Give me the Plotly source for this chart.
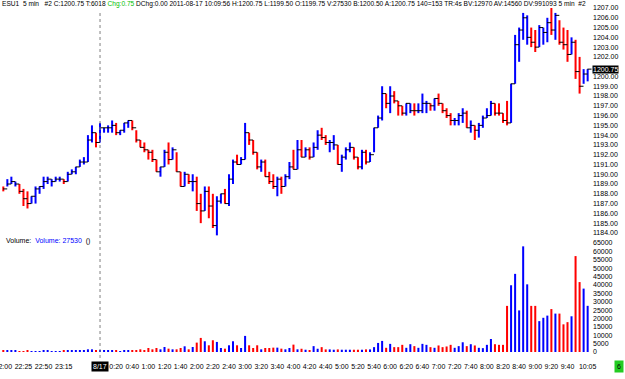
import plotly.graph_objects as go

W, H = 625, 379

opens = [1188.75,1188.75,1189.0,1188.75,1189.0,1188.25,1187.5,1187.0,1187.75,1188.25,
         1188.75,1189.25,1189.0,1189.25,1189.25,1189.5,1189.25,1190.0,1190.25,1190.75,
         1191.0,1191.25,1193.5,1194.25,1193.25,1194.5,1194.5,1194.5,1195.0,1194.25,
         1194.5,1195.25,1195.5,1194.5,1193.5,1193.0,1192.5,1192.25,1191.25,1190.25,
         1190.75,1192.25,1191.5,1192.25,1190.25,1189.0,1189.75,1188.75,1189.25,1187.0,
         1186.5,1188.25,1186.75,1184.75,1187.25,1188.0,1187.0,1189.5,1191.75,1191.0,
         1191.5,1194.25,1193.5,1192.25,1190.75,1191.25,1189.75,1189.25,1188.5,1189.5,
         1188.75,1189.75,1192.0,1190.5,1193.25,1192.0,1192.5,1191.75,1192.75,1194.5,
         1193.75,1192.75,1192.75,1193.0,1191.0,1191.75,1192.5,1192.5,1191.5,1190.75,
         1192.0,1191.5,1192.25,1195.0,1195.75,1198.0,1197.0,1198.25,1197.25,1197.0,
         1196.25,1196.25,1197.0,1196.25,1196.5,1196.75,1197.25,1197.0,1197.75,1197.0,
         1196.5,1196.0,1195.25,1195.5,1195.75,1196.25,1194.75,1194.75,1194.25,1195.0,
         1195.75,1196.0,1197.0,1196.75,1196.0,1197.0,1195.5,1199.5,1202.0,1204.5,
         1203.5,1205.0,1204.5,1203.25,1203.5,1203.75,1205.5,1204.5,1205.5,1204.25,
         1203.5,1202.5,1203.25,1201.0,1199.5,1199.75]
highs = [1188.75,1189.5,1189.75,1189.25,1189.0,1188.5,1188.25,1187.75,1188.75,1188.75,
         1189.75,1189.75,1189.5,1189.75,1189.75,1189.5,1190.25,1190.5,1190.75,1191.5,
         1191.75,1194.0,1195.0,1194.25,1195.25,1194.75,1195.0,1195.5,1195.25,1194.5,
         1195.25,1195.5,1195.5,1194.5,1193.5,1193.25,1192.5,1192.5,1191.5,1190.75,
         1192.5,1193.25,1192.75,1192.25,1190.25,1190.25,1190.0,1190.0,1189.75,1188.0,
         1188.75,1188.75,1188.0,1187.75,1188.0,1188.5,1190.0,1191.5,1192.0,1191.75,
         1195.25,1194.25,1193.5,1192.25,1191.5,1191.5,1190.25,1190.0,1189.75,1189.75,
         1190.0,1191.25,1192.5,1193.5,1193.5,1192.75,1192.75,1193.25,1194.5,1194.75,
         1194.0,1193.5,1194.0,1193.0,1192.0,1192.75,1193.25,1192.75,1191.75,1192.5,
         1192.5,1192.25,1194.75,1196.0,1199.0,1198.25,1199.0,1198.5,1197.5,1197.0,
         1197.25,1197.25,1197.25,1197.25,1198.25,1197.5,1197.25,1197.75,1198.25,1197.25,
         1196.75,1196.25,1195.75,1196.25,1196.75,1196.5,1195.5,1195.0,1195.25,1196.0,
         1196.75,1197.5,1197.25,1197.25,1196.25,1197.5,1199.25,1204.25,1205.0,1206.5,
         1206.25,1205.0,1204.75,1205.25,1205.0,1206.0,1207.0,1206.5,1205.75,1205.0,
         1204.75,1204.0,1203.75,1202.0,1200.75,1200.75]
lows = [1188.25,1188.75,1189.0,1188.75,1188.0,1186.75,1186.5,1187.0,1187.0,1188.0,
        1188.5,1189.0,1188.75,1189.25,1189.25,1189.0,1189.25,1190.0,1190.0,1190.75,
        1191.0,1191.25,1193.25,1192.75,1193.25,1194.25,1194.25,1194.25,1194.0,1194.0,
        1194.25,1194.75,1194.5,1193.25,1192.75,1192.25,1191.5,1191.25,1190.25,1189.75,
        1190.75,1191.0,1191.5,1190.25,1188.75,1188.75,1189.0,1188.25,1186.25,1185.0,
        1186.25,1185.5,1184.5,1183.75,1187.0,1187.0,1186.75,1189.0,1191.0,1191.0,
        1191.5,1193.0,1192.0,1190.5,1190.25,1189.75,1189.0,1188.5,1187.75,1188.0,
        1188.75,1189.5,1190.5,1190.5,1191.75,1191.75,1191.5,1191.75,1192.5,1193.5,
        1193.0,1192.25,1192.5,1191.0,1190.25,1191.5,1192.25,1191.5,1190.5,1190.5,
        1191.0,1191.25,1192.25,1194.75,1195.5,1196.75,1196.25,1197.25,1196.0,1196.0,
        1196.0,1196.25,1196.0,1196.25,1196.25,1196.25,1196.5,1196.5,1197.0,1196.25,
        1195.75,1195.0,1195.0,1195.0,1195.25,1194.75,1194.25,1193.5,1193.75,1194.75,
        1195.75,1196.0,1196.0,1196.0,1195.25,1195.0,1195.25,1199.25,1201.5,1203.75,
        1203.25,1203.0,1202.5,1203.0,1203.25,1203.5,1204.25,1203.75,1203.25,1202.75,
        1201.5,1202.25,1199.75,1198.25,1199.25,1199.5]
closes = [1188.5,1189.0,1189.25,1189.0,1188.25,1187.5,1187.0,1187.75,1188.5,1188.75,
          1189.25,1189.5,1189.25,1189.5,1189.5,1189.25,1190.0,1190.25,1190.75,1191.25,
          1191.25,1193.5,1194.25,1193.25,1194.75,1194.75,1194.75,1195.0,1194.25,1194.5,
          1195.25,1195.5,1194.75,1193.5,1192.75,1192.5,1192.25,1191.5,1190.25,1190.75,
          1192.25,1191.5,1192.5,1190.25,1188.75,1190.0,1189.25,1189.25,1187.0,1186.25,
          1188.25,1186.75,1184.75,1187.25,1188.0,1187.0,1189.5,1191.25,1191.0,1191.5,
          1194.25,1193.5,1192.25,1190.75,1191.25,1189.75,1189.25,1188.75,1189.5,1188.75,
          1189.75,1190.75,1190.5,1192.5,1191.75,1192.5,1191.75,1192.75,1194.0,1193.75,
          1193.25,1193.25,1193.0,1191.0,1191.75,1192.5,1192.75,1191.75,1190.75,1192.25,
          1191.25,1192.0,1194.75,1195.75,1198.25,1197.25,1198.0,1197.5,1197.0,1196.25,
          1197.25,1196.5,1196.5,1196.5,1197.25,1197.25,1197.0,1197.75,1197.25,1196.5,
          1196.0,1195.5,1195.5,1196.0,1196.25,1194.75,1195.0,1194.5,1195.0,1195.75,
          1196.0,1197.25,1196.25,1196.25,1195.5,1195.25,1199.25,1203.25,1204.75,1206.0,
          1204.0,1203.5,1203.0,1205.0,1204.5,1205.5,1204.75,1206.25,1203.5,1203.25,
          1202.25,1203.5,1200.5,1199.0,1200.25,1200.75]
volumes = [1000,1000,1000,1000,400,400,1000,400,400,400,
           1000,600,400,400,400,600,1000,1000,1000,1000,
           600,1600,1600,1000,1000,1000,1000,1000,1000,400,
           1000,1000,1000,1000,1600,1000,2400,1600,2400,1600,
           3000,2000,1600,1600,2400,3400,1600,3000,5600,8400,
           6400,4000,7000,6000,2400,2000,4000,6400,4000,2400,
           9600,4000,2400,4000,1600,2400,2400,2600,2600,2000,
           1600,2400,4400,1600,1940,1360,970,3500,1940,2900,
           1550,1550,1360,1550,1360,1360,1360,1360,1360,1360,
           1550,1550,2900,5400,6600,2500,4850,2900,2900,4270,
           2500,4650,3500,2500,4850,4270,2900,2500,3900,2900,
           3300,4270,2500,3500,5800,3500,4650,3900,2500,2300,
           4270,7760,4650,4270,4270,27500,39800,46600,24800,63000,
           40350,27500,27500,18400,20400,21700,25600,22900,22900,16500,
           17800,21300,57200,41700,37800,27530]

price_ticks = [1184,1185,1186,1187,1188,1189,1190,1191,1192,1193,1194,1195,1196,
               1197,1198,1199,1200,1202,1203,1204,1205,1206,1207]
volume_ticks = [0,5000,10000,15000,20000,25000,30000,35000,40000,45000,50000,55000,60000,65000]
x_tick_idx = [0,5,10,15,28,32,36,40,44,48,52,56,60,64,68,72,76,80,84,88,92,96,
              100,104,108,112,116,120,124,128,132,136,140,145]
x_tick_text = ["22:00","22:25","22:50","23:15","0:20","0:40","1:00","1:20","1:40",
               "2:00","2:20","2:40","3:00","3:20","3:40","4:00","4:20","4:40","5:00",
               "5:20","5:40","6:00","6:20","6:40","7:00","7:20","7:40","8:00","8:20",
               "8:40","9:00","9:20","9:40","10:05"]
date_idx = 24
date_label = "8/17"
last_close_label = "1200.75"
header_left = "ESU1\u00a0\u00a05 min\u00a0\u00a0\u00a0#2 C:1200.75 T:6018 "
header_chg = "Chg:0.75"
header_right = (" DChg:0.00 2011-08-17 10:09:56 H:1200.75 L:1199.50 O:1199.75 V:27530 "
                "B:1200.50 A:1200.75 140=153 TR:4s BV:12970 AV:14560 DV:991093 5 min\u00a0\u00a0#2")

BLUE, RED = "#0000ff", "#ff0000"
FONT = "Liberation Sans, Arial, sans-serif"
n = len(closes)
xs = list(range(n))
colors = [BLUE if c > o else (RED if c < o else "#000000") for o, c in zip(opens, closes)]

def py(px):
    return 1 - px / H

fig = go.Figure()
fig.add_trace(go.Bar(x=xs, y=[h - l for h, l in zip(highs, lows)], base=lows, width=0.5,
                     marker=dict(color=colors, line=dict(width=0)), xaxis="x", yaxis="y",
                     hoverinfo="skip"))
fig.add_trace(go.Scatter(x=[i + 0.45 for i in xs], y=closes, mode="markers",
                         marker=dict(symbol="line-ew", size=3, color="#000000",
                                     line=dict(width=1, color="#000000")),
                         xaxis="x", yaxis="y", hoverinfo="skip"))
fig.add_trace(go.Bar(x=xs, y=volumes, width=0.5,
                     marker=dict(color=colors, line=dict(width=0)), xaxis="x2", yaxis="y2",
                     hoverinfo="skip"))

xr = [-0.82, 146.08]
xdom = [0, 592 / W]
fig.update_layout(
    width=W, height=H, margin=dict(l=0, r=0, t=0, b=0),
    paper_bgcolor="white", plot_bgcolor="white", showlegend=False,
    font=dict(family=FONT, size=7, color="#000000"),
    xaxis=dict(domain=xdom, range=xr, anchor="y", showticklabels=False, showgrid=False,
               zeroline=False, showline=False, ticks="", automargin=False),
    xaxis2=dict(domain=xdom, range=xr, anchor="y2", showgrid=False, zeroline=False,
                showline=False, ticks="", tickmode="array", tickvals=x_tick_idx,
                ticktext=x_tick_text, tickfont=dict(size=7), tickangle=0, automargin=False,
                ticklabeloverflow="allow", ticklabelstandoff=3),
    yaxis=dict(domain=[py(238), 1], range=[1183.48, 1207.82], side="right", anchor="x",
               showgrid=False, zeroline=False, showline=False, ticks="", tickmode="array",
               tickvals=price_ticks, ticktext=["%.2f" % v for v in price_ticks],
               tickfont=dict(size=7), automargin=False),
    yaxis2=dict(domain=[py(358), py(240)], range=[-3578, 66789], side="right", anchor="x2",
                showgrid=False, zeroline=False, showline=False, ticks="", tickmode="array",
                tickvals=volume_ticks, ticktext=[str(v) for v in volume_ticks],
                tickfont=dict(size=7), automargin=False),
)

fig.add_shape(type="line", xref="x", yref="paper", x0=date_idx, x1=date_idx,
              y0=py(358), y1=py(10), line=dict(color="#808080", width=1, dash="dot"))

fig.add_annotation(xref="paper", yref="paper", x=0, y=py(4), xanchor="left", yanchor="middle",
                   showarrow=False, font=dict(size=6.6, color="#000000"),
                   text=header_left + "<span style='color:#00c000'>" + header_chg + "</span>" + header_right)
fig.add_annotation(xref="paper", yref="paper", x=4 / W, y=py(241), xanchor="left", yanchor="middle",
                   showarrow=False, font=dict(size=7, color="#000000"),
                   text="Volume:\u00a0\u00a0<span style='color:#0000ff'>Volume: %d</span>\u00a0\u00a0()" % volumes[-1])
fig.add_annotation(xref="paper", yref="y", x=592 / W, y=closes[-1], xanchor="left", yanchor="middle",
                   showarrow=False, bgcolor="#000000", borderpad=0,
                   font=dict(size=7, color="#ffffff"), text=last_close_label)
fig.add_annotation(xref="x2", yref="paper", x=date_idx, y=py(366), xanchor="center", yanchor="middle",
                   showarrow=False, bgcolor="#000000", borderpad=1,
                   font=dict(size=7, color="#ffffff"), text=date_label)
fig.add_annotation(xref="paper", yref="paper", x=619 / W, y=py(366), xanchor="center", yanchor="middle",
                   showarrow=False, bgcolor="#22cc22", borderpad=2,
                   font=dict(size=7, color="#000000"), text="6")

fig.write_html("out.html")
